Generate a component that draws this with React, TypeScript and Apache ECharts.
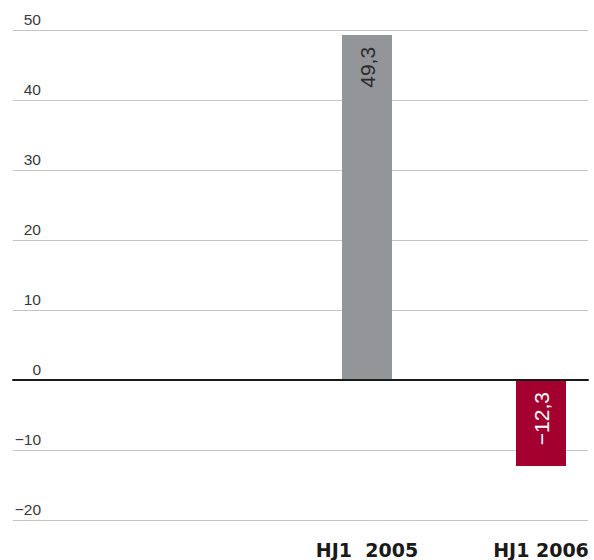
import React, { useEffect, useRef } from "react";
import * as echarts from "echarts";

const categories = ["HJ1  2005", "HJ1 2006"];
const values = [49.3, -12.3];
const barColors = ["#949599", "#a3002f"];
const labelColors = ["#2b2b2b", "#ffffff"];
const yMin = -20;
const yMax = 50;
const yInterval = 10;

const fmt = (v: number) => {
  const s = String(v).replace(".", ",");
  return s.startsWith("-") ? "\u2212" + s.slice(1) : s;
};

export default function App() {
  const ref = useRef<HTMLDivElement>(null);
  useEffect(() => {
    if (!ref.current) return;
    document.body.style.margin = "0";
    const chart = echarts.init(ref.current, null, { renderer: "svg" });
    chart.setOption({
      animation: false,
      grid: [
        { left: 13, right: 6, top: 30, bottom: 40 },
        { left: 367, right: 53, top: 30, bottom: 40 },
      ],
      xAxis: [
        {
          type: "value",
          gridIndex: 0,
          min: 0,
          max: 1,
          axisLine: { show: true, onZero: true, lineStyle: { color: "#1a1a1a", width: 2 } },
          axisTick: { show: false },
          axisLabel: { show: false },
          splitLine: { show: false },
          z: 5,
        },
        {
          type: "category",
          gridIndex: 1,
          data: categories,
          boundaryGap: false,
          axisLine: { show: false, onZero: false },
          axisTick: { show: false },
          splitLine: { show: false },
          axisLabel: {
            color: "#1a1a1a",
            fontFamily: "DejaVu Sans",
            fontWeight: "bold",
            fontSize: 19,
            margin: 20,
            interval: 0,
          },
        },
      ],
      yAxis: [
        {
          type: "value",
          gridIndex: 0,
          min: yMin,
          max: yMax,
          interval: yInterval,
          axisLine: { show: false },
          axisTick: { show: false },
          splitLine: { show: true, lineStyle: { color: "#c4c4c4", width: 1 } },
          axisLabel: {
            inside: true,
            margin: 28,
            align: "right",
            verticalAlign: "bottom",
            padding: [0, 0, 3, 0],
            color: "#3a3a3a",
            fontFamily: "Liberation Sans",
            fontSize: 15.5,
            formatter: (v: number) => fmt(v),
          },
        },
        {
          type: "value",
          gridIndex: 1,
          min: yMin,
          max: yMax,
          interval: yInterval,
          show: false,
        },
      ],
      series: [
        {
          type: "bar",
          xAxisIndex: 1,
          yAxisIndex: 1,
          barWidth: 50,
          data: values.map((v, i) => ({
            value: v,
            itemStyle: { color: barColors[i] },
            label: { color: labelColors[i] },
          })),
          label: {
            show: true,
            position: "insideTop",
            distance: 12,
            rotate: 90,
            align: "right",
            verticalAlign: "middle",
            fontFamily: "Liberation Sans",
            fontSize: 21,
            formatter: (p: any) => fmt(p.value),
          },
        },
      ],
    });
    return () => chart.dispose();
  }, []);
  return <div ref={ref} style={{ width: 594, height: 560 }} />;
}
